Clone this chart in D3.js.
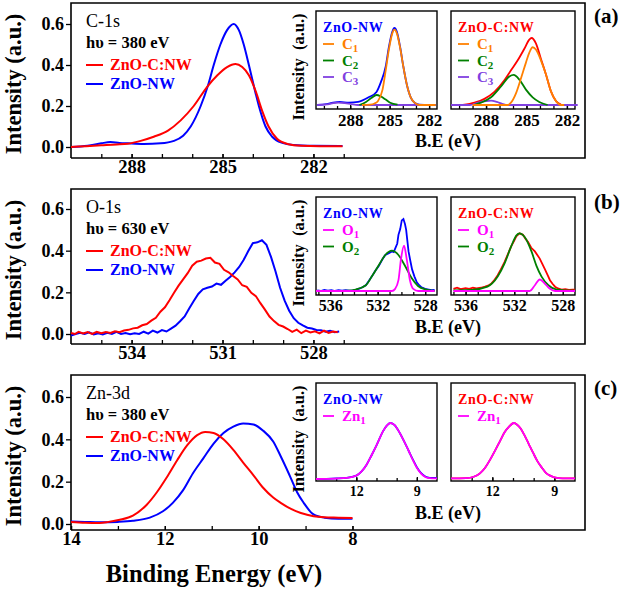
<!DOCTYPE html>
<html>
<head>
<meta charset="utf-8">
<script src="https://cdn.jsdelivr.net/npm/d3@7/dist/d3.min.js"></script>
<style>
  body { margin: 0; background: #fff; }
  svg { display: block; }
</style>
</head>
<body>
<svg id="chart" width="625" height="590" style="font-family: 'Liberation Serif', 'DejaVu Serif', serif;"></svg>
<script>
// ---------- C-1s (hv = 380 eV) ----------
const c1sZnOC = [[290.0,0.0],[289.5,0.004],[289.0,0.008],[288.5,0.012],[288.13,0.016],[287.7,0.03],[287.27,0.05],[286.8,0.08],[286.38,0.13],[285.95,0.2],[285.5,0.295],[285.17,0.35],[284.85,0.39],[284.57,0.405],[284.35,0.39],[284.13,0.35],[283.9,0.27],[283.7,0.18],[283.48,0.1],[283.2,0.04],[282.86,0.015],[282.4,0.006],[281.8,0.004],[281.04,0.004]];
const c1sZnO = [[290.0,0.0],[289.45,0.006],[289.0,0.018],[288.7,0.024],[288.4,0.02],[288.13,0.018],[287.6,0.015],[287.04,0.018],[286.6,0.03],[286.3,0.055],[286.05,0.1],[285.72,0.2],[285.48,0.3],[285.29,0.4],[285.07,0.5],[284.85,0.57],[284.63,0.6],[284.46,0.57],[284.3,0.5],[284.13,0.4],[283.97,0.3],[283.8,0.2],[283.58,0.1],[283.36,0.05],[283.03,0.02],[282.66,0.01],[282.0,0.006],[281.04,0.005]];
// inset fits, ZnO-NW
const c1sNwTotal = [[290.5,0.0],[289.8,0.01],[289.3,0.03],[288.8,0.04],[288.1,0.03],[287.4,0.04],[286.6,0.1],[286.0,0.17],[285.66,0.3],[285.3,0.5],[285.06,0.75],[284.8,0.95],[284.64,1.0],[284.45,0.95],[284.2,0.75],[283.96,0.5],[283.7,0.27],[283.4,0.1],[283.1,0.03],[282.74,0.005],[282.0,0.0],[281.5,0.0]];
const c1sNwC1 = [[287.1,0.0],[286.5,0.005],[286.15,0.02],[285.9,0.05],[285.54,0.2],[285.3,0.45],[285.06,0.72],[284.8,0.93],[284.64,0.98],[284.45,0.93],[284.2,0.74],[283.96,0.5],[283.7,0.27],[283.4,0.1],[283.1,0.03],[282.74,0.0],[281.5,0.0]];
const c1sNwC2 = [[287.3,0.0],[286.8,0.04],[286.4,0.09],[286.0,0.13],[285.66,0.11],[285.3,0.07],[284.96,0.03],[284.4,0.005]];
const c1sNwC3 = [[290.5,0.0],[289.7,0.008],[289.3,0.025],[288.9,0.032],[288.4,0.025],[287.9,0.01],[287.4,0.0],[281.5,0.0]];
// inset fits, ZnO-C:NW
const c1sCTotal = [[289.72,0.0],[288.86,0.03],[288.12,0.08],[287.38,0.17],[286.64,0.32],[286.15,0.45],[285.65,0.58],[285.16,0.73],[284.79,0.85],[284.62,0.87],[284.3,0.8],[283.93,0.6],[283.56,0.4],[283.19,0.18],[282.81,0.05],[282.44,0.005]];
const c1sCC1 = [[289.0,0.0],[286.4,0.0],[286.15,0.03],[285.78,0.15],[285.4,0.35],[285.04,0.55],[284.79,0.68],[284.54,0.75],[284.3,0.72],[283.93,0.58],[283.56,0.4],[283.19,0.18],[282.81,0.05],[282.44,0.0],[282.2,0.0]];
const c1sCC2 = [[288.9,0.0],[288.37,0.03],[287.63,0.1],[286.89,0.24],[286.27,0.37],[285.95,0.39],[285.53,0.33],[285.04,0.2],[284.54,0.1],[284.05,0.04],[283.43,0.0]];
const c1sCC3 = [[290.6,0.0],[289.2,0.0],[288.6,0.03],[288.0,0.05],[287.63,0.056],[287.2,0.04],[286.8,0.015],[286.4,0.0],[281.2,0.0]];
const c1sMajor = [288, 285, 282];
const c1sMinor = [289, 288, 287, 286, 285, 284, 283, 282, 281];
const c1sInsetMinor = [290, 289, 288, 287, 286, 285, 284, 283, 282];

// ---------- O-1s (hv = 630 eV) ----------
const o1sZnOC = [[536.0,0.005],[535.87,0.0],[535.75,0.01],[535.6,0.003],[535.45,0.009],[535.3,0.0],[535.15,0.01],[535.0,0.004],[534.85,0.01],[534.7,0.005],[534.55,0.013],[534.4,0.009],[534.25,0.017],[534.1,0.02],[533.95,0.027],[533.8,0.03],[533.65,0.042],[533.5,0.048],[533.35,0.064],[533.2,0.078],[533.05,0.107],[532.9,0.128],[532.75,0.162],[532.6,0.198],[532.45,0.232],[532.3,0.262],[532.15,0.292],[532.0,0.328],[531.85,0.347],[531.7,0.352],[531.55,0.362],[531.4,0.366],[531.25,0.343],[531.1,0.337],[530.95,0.308],[530.8,0.296],[530.65,0.278],[530.5,0.262],[530.35,0.234],[530.2,0.226],[530.05,0.198],[529.9,0.182],[529.75,0.148],[529.6,0.117],[529.45,0.084],[529.3,0.062],[529.15,0.044],[529.0,0.036],[528.85,0.024],[528.7,0.01],[528.55,0.021],[528.4,0.004],[528.25,0.016],[528.1,0.007],[527.95,0.013],[527.8,0.003],[527.65,0.016],[527.5,0.005],[527.35,0.012],[527.2,0.008]];
const o1sZnO = [[536.0,-0.008],[535.85,0.0],[535.7,0.006],[535.55,0.0],[535.4,0.008],[535.25,-0.002],[535.1,0.004],[534.95,-0.002],[534.8,0.006],[534.65,0.0],[534.5,0.01],[534.35,0.0],[534.2,0.005],[534.05,-0.001],[533.9,0.003],[533.75,0.0],[533.6,0.011],[533.45,0.002],[533.3,0.016],[533.15,0.007],[533.0,0.019],[532.85,0.012],[532.7,0.026],[532.55,0.04],[532.4,0.061],[532.25,0.084],[532.1,0.122],[531.95,0.158],[531.8,0.192],[531.65,0.214],[531.5,0.222],[531.35,0.228],[531.2,0.242],[531.05,0.236],[530.9,0.256],[530.75,0.274],[530.6,0.296],[530.45,0.322],[530.3,0.356],[530.15,0.398],[530.0,0.436],[529.85,0.44],[529.7,0.45],[529.55,0.428],[529.4,0.37],[529.25,0.3],[529.1,0.222],[528.95,0.16],[528.8,0.112],[528.65,0.076],[528.5,0.054],[528.35,0.041],[528.2,0.03],[528.05,0.026],[527.9,0.019],[527.75,0.018],[527.6,0.011],[527.45,0.016],[527.3,0.009],[527.15,0.012]];
const o1sNwTotal = [[537.1,0.01],[536.8,0.0],[536.5,0.015],[536.2,0.005],[535.9,0.012],[535.6,0.0],[535.3,0.01],[535.0,0.004],[534.7,0.012],[534.4,0.006],[534.1,0.01],[533.8,0.02],[533.5,0.035],[533.25,0.055],[533.0,0.08],[532.75,0.14],[532.5,0.2],[532.2,0.28],[531.9,0.35],[531.6,0.44],[531.36,0.5],[531.1,0.52],[530.8,0.55],[530.65,0.54],[530.5,0.6],[530.35,0.66],[530.25,0.78],[530.1,0.86],[529.97,0.98],[529.83,1.0],[529.7,0.93],[529.6,0.85],[529.5,0.7],[529.4,0.55],[529.25,0.42],[529.1,0.3],[528.9,0.2],[528.7,0.12],[528.5,0.08],[528.3,0.05],[528.0,0.03],[527.7,0.02],[527.45,0.012],[527.2,0.015]];
const o1sNwO1 = [[537.2,0.0],[530.8,0.0],[530.53,0.03],[530.25,0.15],[530.03,0.45],[529.78,0.63],[529.56,0.45],[529.28,0.15],[529.0,0.03],[528.58,0.0],[527.2,0.0]];
const o1sNwO2 = [[537.2,0.0],[535.5,0.0],[534.5,0.005],[533.86,0.02],[533.0,0.08],[532.5,0.2],[531.9,0.36],[531.36,0.5],[530.8,0.56],[530.25,0.5],[529.7,0.35],[529.14,0.18],[528.6,0.07],[527.9,0.02],[527.2,0.0]];
const o1sCTotal = [[537.0,0.03],[536.7,0.045],[536.4,0.025],[536.0,0.04],[535.7,0.03],[535.4,0.045],[535.1,0.035],[534.75,0.045],[534.4,0.06],[534.1,0.08],[533.9,0.1],[533.6,0.16],[533.36,0.22],[533.1,0.3],[532.8,0.4],[532.5,0.52],[532.25,0.62],[532.0,0.7],[531.83,0.76],[531.56,0.8],[531.28,0.78],[531.05,0.72],[530.86,0.68],[530.6,0.6],[530.3,0.55],[530.1,0.5],[529.9,0.45],[529.7,0.38],[529.47,0.3],[529.25,0.22],[529.06,0.15],[528.85,0.1],[528.64,0.06],[528.4,0.035],[528.1,0.02],[527.8,0.025],[527.5,0.015],[527.2,0.02],[527.0,0.02]];
const o1sCO1 = [[537.0,0.0],[530.72,0.0],[530.3,0.08],[529.9,0.16],[529.47,0.1],[529.06,0.03],[528.64,0.0],[527.0,0.0]];
const o1sCO2 = [[537.0,0.01],[535.5,0.015],[534.2,0.06],[533.36,0.2],[532.8,0.38],[532.25,0.62],[531.83,0.77],[531.56,0.8],[531.14,0.75],[530.58,0.55],[530.17,0.35],[529.75,0.2],[529.19,0.08],[528.5,0.02],[527.0,0.005]];
const o1sMajor = [534, 531, 528];
const o1sMinor = [535, 534, 533, 532, 531, 530, 529, 528, 527];
const o1sInsetMajor = [536, 532, 528];
const o1sInsetMinor = [537, 536, 535, 534, 533, 532, 531, 530, 529, 528];

// ---------- Zn-3d (hv = 380 eV) ----------
const zn3dZnOC = [[14.0,0.01],[13.7,0.006],[13.39,0.005],[13.2,0.01],[12.96,0.02],[12.68,0.04],[12.39,0.09],[12.17,0.15],[11.96,0.22],[11.74,0.3],[11.53,0.37],[11.31,0.42],[11.14,0.435],[10.96,0.43],[10.75,0.4],[10.54,0.35],[10.33,0.29],[10.11,0.23],[9.9,0.17],[9.69,0.125],[9.53,0.1],[9.3,0.07],[9.1,0.052],[8.83,0.037],[8.6,0.032],[8.3,0.03],[8.0,0.028]];
const zn3dZnO = [[14.0,0.012],[13.7,0.01],[13.39,0.008],[13.0,0.01],[12.68,0.015],[12.32,0.03],[12.04,0.06],[11.83,0.1],[11.61,0.16],[11.4,0.24],[11.18,0.31],[10.96,0.38],[10.75,0.43],[10.54,0.46],[10.33,0.475],[10.11,0.47],[9.9,0.44],[9.69,0.39],[9.53,0.32],[9.3,0.21],[9.18,0.15],[9.04,0.1],[8.83,0.045],[8.6,0.03],[8.3,0.025],[8.0,0.025]];
const zn3dNwTotal = [[14.0,0.0],[13.5,0.004],[13.0,0.01],[12.49,0.02],[12.0,0.06],[11.75,0.13],[11.5,0.25],[11.25,0.42],[11.0,0.6],[10.68,0.85],[10.5,0.95],[10.3,1.0],[10.1,0.96],[9.94,0.88],[9.6,0.65],[9.4,0.5],[9.2,0.35],[9.0,0.21],[8.8,0.11],[8.6,0.05],[8.47,0.03],[8.25,0.02],[8.0,0.02]];
const zn3dNwZn1 = [[14.0,0.0],[13.5,0.003],[13.0,0.008],[12.49,0.02],[12.0,0.06],[11.75,0.13],[11.5,0.25],[11.25,0.42],[11.0,0.6],[10.68,0.85],[10.5,0.95],[10.3,1.0],[10.1,0.96],[9.94,0.88],[9.6,0.65],[9.4,0.5],[9.2,0.34],[9.0,0.2],[8.8,0.1],[8.6,0.04],[8.47,0.02],[8.25,0.012],[8.0,0.01]];
const zn3dCTotal = [[14.0,0.01],[13.27,0.015],[12.9,0.04],[12.6,0.1],[12.35,0.2],[12.1,0.35],[11.85,0.52],[11.6,0.7],[11.4,0.84],[11.2,0.93],[10.96,1.0],[10.8,0.97],[10.63,0.9],[10.43,0.77],[10.23,0.62],[10.03,0.47],[9.82,0.32],[9.6,0.2],[9.41,0.11],[9.2,0.06],[9.0,0.03],[8.6,0.01],[8.0,0.01]];
const zn3dCZn1 = [[14.0,0.01],[13.27,0.015],[12.9,0.04],[12.6,0.1],[12.35,0.2],[12.1,0.35],[11.85,0.52],[11.6,0.7],[11.4,0.84],[11.2,0.93],[10.96,1.0],[10.8,0.97],[10.63,0.9],[10.43,0.77],[10.23,0.62],[10.03,0.47],[9.82,0.32],[9.6,0.2],[9.41,0.11],[9.2,0.06],[9.0,0.03],[8.6,0.012],[8.0,0.01]];
const zn3dMajor = [14, 12, 10, 8];
const zn3dMinor = [14, 13, 12, 11, 10, 9, 8];
const zn3dInsetMajor = [12, 9];
const zn3dInsetMinor = [13, 12, 11, 10, 9];

const yTicks = [0.0, 0.2, 0.4, 0.6];

const RED = "#ff0000", BLUE = "#0000ff", ORANGE = "#ff8000", GREEN = "#008000", PURPLE = "#8040e0", MAGENTA = "#ff00ff";
const SERIF = "'Liberation Serif', 'DejaVu Serif', serif";

const panels = [
  { top: 3, tag: "(a)", core: "C-1s", hv: "h\u03c5 = 380 eV", domain: [290, 280.43], axisEnd: 361, y0: 144, y6: 21,
    major: c1sMajor, minor: c1sMinor, red: c1sZnOC, blue: c1sZnO, noisy: false,
    inset: { domain: [290.6, 281.4], major: c1sMajor, minor: c1sInsetMinor, y0: 102, y1: 25, noisy: false, tickFont: 17,
      left: { title: "ZnO-NW", color: BLUE, total: c1sNwTotal,
        comps: [{ n: "C", s: "1", c: ORANGE, d: c1sNwC1 }, { n: "C", s: "2", c: GREEN, d: c1sNwC2 }, { n: "C", s: "3", c: PURPLE, d: c1sNwC3 }] },
      right: { title: "ZnO-C:NW", color: RED, total: c1sCTotal,
        comps: [{ n: "C", s: "1", c: ORANGE, d: c1sCC1 }, { n: "C", s: "2", c: GREEN, d: c1sCC2 }, { n: "C", s: "3", c: PURPLE, d: c1sCC3 }] } } },
  { top: 189, tag: "(b)", core: "O-1s", hv: "h\u03c5 = 630 eV", domain: [536, 526.43], axisEnd: 361, y0: 145, y6: 20,
    major: o1sMajor, minor: o1sMinor, red: o1sZnOC, blue: o1sZnO, noisy: true,
    inset: { domain: [537.2, 527.0], major: o1sInsetMajor, minor: o1sInsetMinor, y0: 102, y1: 30, noisy: true, tickFont: 16,
      left: { title: "ZnO-NW", color: BLUE, total: o1sNwTotal,
        comps: [{ n: "O", s: "1", c: MAGENTA, d: o1sNwO1 }, { n: "O", s: "2", c: GREEN, d: o1sNwO2 }] },
      right: { title: "ZnO-C:NW", color: RED, total: o1sCTotal,
        comps: [{ n: "O", s: "1", c: MAGENTA, d: o1sCO1 }, { n: "O", s: "2", c: GREEN, d: o1sCO2 }] } } },
  { top: 375, tag: "(c)", core: "Zn-3d", hv: "h\u03c5 = 380 eV", domain: [14, 7.2], axisEnd: 390, y0: 149, y6: 22,
    major: zn3dMajor, minor: zn3dMinor, red: zn3dZnOC, blue: zn3dZnO, noisy: false,
    inset: { domain: [14, 8], major: zn3dInsetMajor, minor: zn3dInsetMinor, y0: 104, y1: 48, noisy: false, tickFont: 14,
      left: { title: "ZnO-NW", color: BLUE, total: zn3dNwTotal,
        comps: [{ n: "Zn", s: "1", c: MAGENTA, d: zn3dNwZn1 }] },
      right: { title: "ZnO-C:NW", color: RED, total: zn3dCTotal,
        comps: [{ n: "Zn", s: "1", c: MAGENTA, d: zn3dCZn1 }] } } }
];

const svg = d3.select("#chart");
const LEFT = 71, RIGHT = 585, PANEL_H = 155;

function txt(sel) {
  return sel.append("text").style("font-family", SERIF).attr("fill", "#000");
}

function styleAxis(g, size) {
  g.select(".domain").remove();
  g.selectAll(".tick line").attr("stroke", "#000").attr("stroke-width", 1.3);
  g.selectAll(".tick text").attr("fill", "#000").attr("font-weight", "bold")
    .style("font-family", SERIF).style("font-size", size + "px");
}

function curveLine(x, y, noisy) {
  return d3.line().x(d => x(d[0])).y(d => y(d[1]))
    .curve(noisy ? d3.curveLinear : d3.curveMonotoneX);
}

function drawInset(p, bx, bw, side) {
  const ins = p.inset;
  const top = p.top;
  const g = svg.append("g");
  const bTop = top + 8, bBot = top + 106;
  g.append("rect").attr("x", bx).attr("y", bTop).attr("width", bw).attr("height", bBot - bTop)
    .attr("fill", "#fff").attr("stroke", "#000").attr("stroke-width", 1.4);

  const x = d3.scaleLinear().domain(ins.domain).range([bx, bx + bw]);
  const y = d3.scaleLinear().domain([0, 1]).range([top + ins.y0, top + ins.y1]);

  g.append("g").attr("transform", `translate(0,${bBot})`)
    .call(d3.axisBottom(x).tickValues(ins.minor).tickSize(-3).tickFormat(""))
    .call(a => styleAxis(a, 15));
  g.append("g").attr("transform", `translate(0,${bBot})`)
    .call(d3.axisBottom(x).tickValues(ins.major).tickSize(-4).tickPadding(5).tickFormat(d3.format("d")))
    .call(a => styleAxis(a, ins.tickFont));

  const ln = curveLine(x, y, ins.noisy);
  g.append("path").attr("d", ln(side.total)).attr("fill", "none").attr("stroke", side.color).attr("stroke-width", 1.8);
  side.comps.slice().reverse().forEach(c => {
    g.append("path").attr("d", curveLine(x, y, false)(c.d)).attr("fill", "none")
      .attr("stroke", c.c).attr("stroke-width", 1.8);
  });

  // legend
  txt(g).attr("x", bx + 7).attr("y", top + 29).attr("fill", side.color)
    .attr("font-size", 14).attr("font-weight", "bold").attr("letter-spacing", 0.6).text(side.title);
  side.comps.forEach((c, i) => {
    const ly = top + 41 + i * 16.5;
    g.append("line").attr("x1", bx + 7).attr("x2", bx + 18).attr("y1", ly).attr("y2", ly)
      .attr("stroke", c.c).attr("stroke-width", 1.8);
    const t = txt(g).attr("x", bx + 26).attr("y", ly + 5).attr("fill", c.c)
      .attr("font-size", 15).attr("font-weight", "bold");
    t.append("tspan").text(c.n);
    t.append("tspan").attr("font-size", 11).attr("dy", 3).text(c.s);
  });
}

panels.forEach(p => {
  const top = p.top;
  const axisY = top + PANEL_H;
  const x = d3.scaleLinear().domain(p.domain).range([LEFT, p.axisEnd]);
  const y = d3.scaleLinear().domain([0, 0.6]).range([top + p.y0, top + p.y6]);
  const g = svg.append("g");

  // frame
  g.append("path").attr("d", `M${LEFT},${axisY} V${top} H${RIGHT} V${axisY} H${LEFT}`)
    .attr("fill", "none").attr("stroke", "#000").attr("stroke-width", 1.6);

  // axes
  g.append("g").attr("transform", `translate(${LEFT},0)`)
    .call(d3.axisLeft(y).tickValues(yTicks).tickSize(5).tickPadding(2).tickFormat(d3.format(".1f")))
    .call(a => styleAxis(a, 18));
  g.append("g").attr("transform", `translate(0,${axisY})`)
    .call(d3.axisBottom(x).tickValues(p.minor).tickSize(-4).tickFormat(""))
    .call(a => styleAxis(a, 18));
  g.append("g").attr("transform", `translate(0,${axisY})`)
    .call(d3.axisBottom(x).tickValues(p.major).tickSize(-4).tickPadding(2).tickFormat(d3.format("d")))
    .call(a => styleAxis(a, 18.5));

  // spectra
  const ln = curveLine(x, y, p.noisy);
  g.append("path").attr("d", ln(p.blue)).attr("fill", "none").attr("stroke", BLUE).attr("stroke-width", 2);
  g.append("path").attr("d", ln(p.red)).attr("fill", "none").attr("stroke", RED).attr("stroke-width", 2);

  // y label
  txt(g).attr("transform", `translate(21,${top + 81}) rotate(-90)`)
    .attr("text-anchor", "middle").attr("font-size", 22.5).attr("font-weight", "bold").text("Intensity (a.u.)");

  // annotations
  txt(g).attr("x", 86).attr("y", top + 24).attr("font-size", 18).text(p.core);
  txt(g).attr("x", 86).attr("y", top + 45).attr("font-size", 16.5).attr("font-weight", "bold").text(p.hv);
  [["ZnO-C:NW", RED, 62], ["ZnO-NW", BLUE, 81]].forEach(([name, col, dy]) => {
    g.append("line").attr("x1", 86).attr("x2", 103).attr("y1", top + dy).attr("y2", top + dy)
      .attr("stroke", col).attr("stroke-width", 2);
    txt(g).attr("x", 110).attr("y", top + dy + 5).attr("fill", col)
      .attr("font-size", 16).attr("font-weight", "bold").text(name);
  });
  txt(g).attr("x", 594).attr("y", top + 20).attr("font-size", 21).attr("font-weight", "bold").text(p.tag);

  // insets
  drawInset(p, 316, 121, p.inset.left);
  drawInset(p, 451, 124, p.inset.right);
  txt(svg).attr("transform", `translate(304,${top + 64}) rotate(-90)`)
    .attr("text-anchor", "middle").attr("font-size", 16.5).attr("font-weight", "bold")
    .attr("word-spacing", 4).text("Intensity (a.u.)");
  txt(svg).attr("x", 448).attr("y", top + 144).attr("text-anchor", "middle")
    .attr("font-size", 18).attr("font-weight", "bold").text("B.E (eV)");
});

txt(svg).attr("x", 214).attr("y", 582).attr("text-anchor", "middle")
  .attr("font-size", 24.5).attr("font-weight", "bold").text("Binding Energy (eV)");
</script>
</body>
</html>
